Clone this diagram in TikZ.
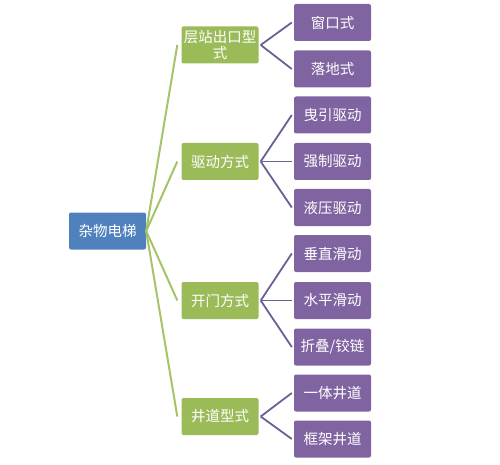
\documentclass[tikz,border=0pt]{standalone}
\usepackage{fontspec}
\newfontfamily\cjk{Noto Sans CJK SC}
\usepackage{tikz}
\usetikzlibrary{positioning, calc}
\definecolor{rootblue}{RGB}{79,129,189}
\definecolor{catgreen}{RGB}{155,187,89}
\definecolor{itempurple}{RGB}{128,100,162}
\definecolor{linkgreen}{RGB}{165,196,106}
\definecolor{linkpurple}{RGB}{110,94,150}

\begin{document}
\begin{tikzpicture}[x=1pt, y=1pt,
  box/.style={rectangle, fill=#1, rounded corners=2pt, text=white,
              font=\cjk\fontsize{14.5}{16}\selectfont, align=center,
              inner sep=0pt, minimum width=77pt, minimum height=37pt},
  glink/.style={draw=linkgreen, line width=2pt},
  plink/.style={draw=linkpurple, line width=1.8pt},
]
  \useasboundingbox (0,0) rectangle (500,464);

  \node[box=rootblue] (root) at (107.5,233) {杂物电梯};

  \node[box=catgreen] (exit)  at (220,419)   {层站出口型\\式};
  \node[box=catgreen] (drive) at (220,302.5) {驱动方式};
  \node[box=catgreen] (door)  at (220,163.5) {开门方式};
  \node[box=catgreen] (shaft) at (220,47.5)  {井道型式};

  \node[box=itempurple] (win)   at (332.5,441.5) {窗口式};
  \node[box=itempurple] (flr)   at (332.5,395)   {落地式};
  \node[box=itempurple] (trac)  at (332.5,349)   {曳引驱动};
  \node[box=itempurple] (pos)   at (332.5,302.5) {强制驱动};
  \node[box=itempurple] (hyd)   at (332.5,256.5) {液压驱动};
  \node[box=itempurple] (vert)  at (332.5,210.5) {垂直滑动};
  \node[box=itempurple] (horiz) at (332.5,163.5) {水平滑动};
  \node[box=itempurple] (fold)  at (332.5,117)   {折叠/铰链};
  \node[box=itempurple] (integ) at (332.5,71)    {一体井道};
  \node[box=itempurple] (frame) at (332.5,25)    {框架井道};

  % root to categories
  \draw[glink] (root.east) -- ([xshift=-4pt]exit.west);
  \draw[glink] (root.east) -- ([xshift=-4pt]drive.west);
  \draw[glink] (root.east) -- ([xshift=-4pt]door.west);
  \draw[glink] (root.east) -- ([xshift=-4pt]shaft.west);

  % categories to items
  \draw[plink] ([xshift=2pt]exit.east) -- ([xshift=-2pt]win.west);
  \draw[plink] ([xshift=2pt]exit.east) -- ([xshift=-2pt]flr.west);
  \draw[plink] ([xshift=2pt]drive.east) -- ([xshift=-2pt]trac.west);
  \draw[plink] ([xshift=2pt]drive.east) -- ([xshift=-2pt]pos.west);
  \draw[plink] ([xshift=2pt]drive.east) -- ([xshift=-2pt]hyd.west);
  \draw[plink] ([xshift=2pt]door.east) -- ([xshift=-2pt]vert.west);
  \draw[plink] ([xshift=2pt]door.east) -- ([xshift=-2pt]horiz.west);
  \draw[plink] ([xshift=2pt]door.east) -- ([xshift=-2pt]fold.west);
  \draw[plink] ([xshift=2pt]shaft.east) -- ([xshift=-2pt]integ.west);
  \draw[plink] ([xshift=2pt]shaft.east) -- ([xshift=-2pt]frame.west);
\end{tikzpicture}
\end{document}
